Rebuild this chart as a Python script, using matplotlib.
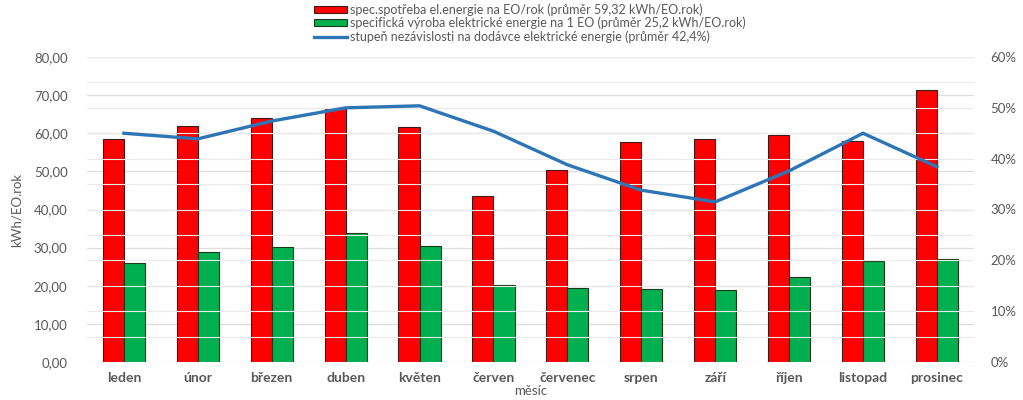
import numpy as np
import matplotlib.pyplot as plt
from matplotlib.ticker import FuncFormatter, MultipleLocator

plt.rcParams['font.family'] = ['Lato', 'DejaVu Sans']

mesice = ['leden', 'únor', 'březen', 'duben', 'květen', 'červen',
          'červenec', 'srpen', 'září', 'říjen', 'listopad', 'prosinec']
spotreba = [58.5, 62.0, 64.0, 66.5, 61.7, 43.5, 50.3, 57.6, 58.4, 59.5, 58.0, 71.4]
vyroba = [26.0, 28.8, 30.1, 33.8, 30.5, 20.2, 19.3, 19.1, 18.8, 22.2, 26.6, 27.0]
nezavislost = [45.0, 43.9, 47.4, 50.0, 50.4, 45.4, 38.8, 33.8, 31.5, 37.6, 45.0, 38.4]

lbl_spotreba = 'spec.spotřeba el.energie na EO/rok (průměr 59,32 kWh/EO.rok)'
lbl_vyroba = 'specifická výroba elektrické energie na 1 EO (průměr 25,2 kWh/EO.rok)'
lbl_nez = 'stupeň nezávislosti na dodávce elektrické energie (průměr 42,4%)'

grey = '#595959'
grid = '#DDDDDD'

fig = plt.figure(figsize=(10.23, 4), dpi=100)
ax = fig.add_axes([0.085, 0.095, 0.867, 0.7625])
ax2 = ax.twinx()

x = np.arange(len(mesice))
w = 0.285
b1 = ax.bar(x - w / 2, spotreba, w, color='#FF0000', edgecolor='#3a1a1a', linewidth=0.8, zorder=3)
b2 = ax.bar(x + w / 2, vyroba, w, color='#00B050', edgecolor='#1a3a1a', linewidth=0.8, zorder=3)
ln, = ax2.plot(x, nezavislost, color='#2E75B6', lw=2.4, zorder=4)

ax.set_xlim(-0.5, len(mesice) - 0.5)
ax.set_ylim(0, 80)
ax2.set_ylim(0, 60)
ax.yaxis.set_major_locator(MultipleLocator(10))
ax2.yaxis.set_major_locator(MultipleLocator(10))
ax.yaxis.set_major_formatter(FuncFormatter(lambda v, p: f'{v:.2f}'.replace('.', ',')))
ax2.yaxis.set_major_formatter(FuncFormatter(lambda v, p: f'{v:.0f}%'))

# gridlines from both axes
for v in np.arange(0, 81, 10):
    ax.axhline(v, color=grid, lw=0.9, zorder=0)
for v in np.arange(0, 61, 5):
    ax2.axhline(v, color='#EAEAEA', lw=0.8, zorder=0)
ax2.set_zorder(ax.get_zorder() + 1)
ax2.patch.set_visible(False)

for a in (ax, ax2):
    for s in a.spines.values():
        s.set_visible(False)
    a.tick_params(length=0, colors=grey, labelsize=9.5)
ax.tick_params(axis='y', pad=14)
ax2.tick_params(axis='y', pad=12)

ax.set_xticks(x)
ax.set_xticklabels(mesice, fontweight='bold', fontsize=10, color=grey)
ax.tick_params(axis='x', pad=7)
ax.set_ylabel('kWh/EO.rok', color=grey, fontsize=9.5, labelpad=8)
ax.set_xlabel('měsíc', color=grey, fontsize=9.5, labelpad=1)

fig.legend([b1, b2, ln], [lbl_spotreba, lbl_vyroba, lbl_nez],
           loc='upper left', bbox_to_anchor=(0.296, 1.02), frameon=False,
           fontsize=9, labelcolor=grey, labelspacing=0.08,
           handlelength=2.6, handleheight=0.5, handletextpad=0.3)

fig.savefig('out.png', dpi=100)
